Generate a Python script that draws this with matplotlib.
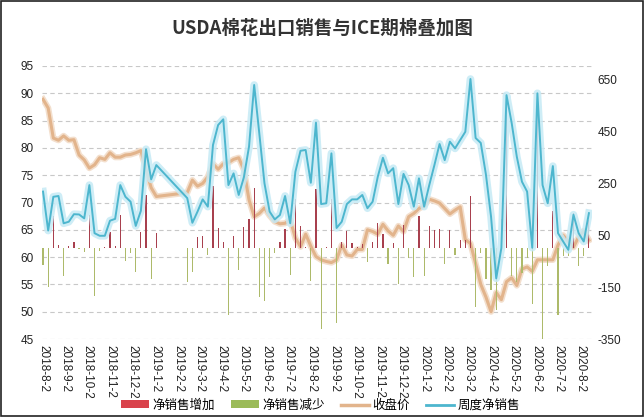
import matplotlib
matplotlib.use("Agg")
import matplotlib.pyplot as plt
import matplotlib.dates as mdates
from matplotlib.patches import Patch, Rectangle
from matplotlib.lines import Line2D
import pandas as pd
import numpy as np

plt.rcParams['font.family'] = ['Noto Sans CJK SC', 'DejaVu Sans']
plt.rcParams['axes.unicode_minus'] = False

# Weekly data starting 2018-08-02 (None = week not published)
start_date = "2018-08-02"
close_price = [88.9, 87.3, 81.8, 81.4, 82.2, 81.4, 81.5, 78.7, 77.8, 76.3,
               76.9, 78.2, 77.9, 79.1, 78.3, 78.3, 78.7, 78.8, 79.1, 79.5,
               76.0, 72.7, 71.1, None, None, None, None, None, 71.8, 74.1,
               73.0, 73.5, 74.7, 77.1, 76.1, 77.1, 77.3, 77.9, 78.2, 76.0,
               70.5, 67.4, 68.0, 69.0, 67.6, 66.5, 66.1, 66.2, 66.8, 63.5,
               61.9, 64.2, 62.0, 60.1, 59.5, 59.2, 59.0, 59.5, 62.2, 60.4,
               60.2, 61.4, 61.4, 65.0, 64.7, 64.2, 66.0, 64.8, 64.0, 65.7,
               64.7, 67.4, 68.0, 68.9, 69.4, 70.6, 70.3, 69.9, 68.9, 67.9,
               68.6, 69.2, 63.2, 62.5, 58.8, 55.0, 52.7, 50.0, 53.5, 52.2,
               55.5, 56.2, 54.8, 57.8, 58.2, 57.4, 59.5, 59.5, 59.5, 59.5,
               62.2, 64.0, 62.9, 61.8, 63.7, 64.8, 63.1]
weekly_sales = [217, 67, 197, 200, 95, 101, 130, 129, 114, 242,
                57, 47, 47, 105, 112, 242, 197, 178, 85, 143,
                380, 264, 319, None, None, None, None, None, 192, 97,
                140, 187, 159, 396, 473, 495, 242, 287, 204, 272,
                390, 627, 440, 249, 140, 110, 127, 200, 95, 293,
                374, 377, 251, 482, 169, 172, 364, 77, 101, 169,
                187, 187, 204, 153, 178, 274, 347, 287, 307, 169,
                285, 242, 159, 268, 159, 242, 319, 400, 338, 409,
                383, 415, 447, 650, 423, 404, 283, 120, -117, 0,
                588, 481, 351, 255, 217, 1, 595, 242, 172, 315,
                57, 25, -7, 128, 57, 25, 134]
sales_change = [-64, -151, 124, 12, -107, 8, 25, -2, -15, 128,
                -186, -10, 2, 62, 8, 128, -51, -19, -94, 62,
                205, -119, 58, None, None, None, None, None, -130, -94,
                42, 46, -28, 237, 77, 22, -258, 46, -86, 80,
                112, 230, -190, -205, -110, -20, 22, 75, -105, 190,
                85, 4, -125, 226, -313, 4, 190, -288, 22, 66,
                18, 2, 16, -53, 25, 97, 55, -61, 20, -140,
                90, -38, -110, 125, -108, 84, 70, 75, -60, 68,
                -25, 32, 32, 200, -225, -20, -121, -160, -237, 110,
                583, -107, -130, -96, -38, -216, 594, -353, -70, 143,
                -258, -32, -32, 135, -71, -32, 109]

tick_labels = ["2018-8-2", "2018-9-2", "2018-10-2", "2018-11-2", "2018-12-2",
               "2019-1-2", "2019-2-2", "2019-3-2", "2019-4-2", "2019-5-2",
               "2019-6-2", "2019-7-2", "2019-8-2", "2019-9-2", "2019-10-2",
               "2019-11-2", "2019-12-2", "2020-1-2", "2020-2-2", "2020-3-2",
               "2020-4-2", "2020-5-2", "2020-6-2", "2020-7-2", "2020-8-2"]
left_ticks = [45, 50, 55, 60, 65, 70, 75, 80, 85, 90, 95]
right_ticks = [-350, -150, 50, 250, 450, 650]

title = "USDA棉花出口销售与ICE期棉叠加图"
legend_labels = ["净销售增加", "净销售减少", "收盘价", "周度净销售"]

dates = pd.date_range(start_date, periods=len(close_price), freq="7D")
df = pd.DataFrame({"date": dates, "price": close_price,
                   "sales": weekly_sales, "chg": sales_change}).dropna()
df["price"] = df["price"].astype(float)
df["sales"] = df["sales"].astype(float)
df["chg"] = df["chg"].astype(float)
x = mdates.date2num(df["date"])

C_RED = "#A8404E"
C_GREEN = "#ADBA6A"
C_ORANGE = "#E2B48C"
C_BLUE = "#4DB6CE"

fig = plt.figure(figsize=(6.44, 4.17), dpi=100)
ax = fig.add_axes([42/644, 1-339/417, 550/644, 273/417])
ax2 = ax.twinx()

x0 = mdates.date2num(pd.Timestamp(start_date)) - 1.4
ax.set_xlim(x0, x0 + 747.6)
ax.set_ylim(45, 95)
ax2.set_ylim(-350, 700)

ax.set_yticks(left_ticks)
ax2.set_yticks(right_ticks)
ax.grid(axis="y", linestyle=(0, (4, 3)), color="#C8C8C8", linewidth=0.8)
ax.set_axisbelow(True)

for a in (ax, ax2):
    for s in a.spines.values():
        s.set_visible(False)
    a.tick_params(length=0, labelsize=8.5, colors="#222222")
ax.tick_params(axis="y", pad=6)
ax2.tick_params(axis="y", pad=4)
for lab in ax.get_yticklabels() + ax2.get_yticklabels():
    lab.set_family(["Liberation Sans", "DejaVu Sans"])

tick_pos = mdates.date2num(pd.to_datetime(tick_labels))
ax.set_xticks(tick_pos)
ax.set_xticklabels(tick_labels, rotation=-90, fontsize=8.5, va="top", ha="center",
                   family=["Liberation Sans", "DejaVu Sans"])
ax.tick_params(axis="x", pad=4)

# bars (net sales change) drawn as thin bars from zero
chg = df["chg"].values
cols = [C_RED if v >= 0 else C_GREEN for v in chg]
ax2.bar(x, chg, width=1.6, color=cols, zorder=2, linewidth=0)

# weekly net sales line with glow
ax2.plot(x, df["sales"], color="#C6EAF5", linewidth=5.5, alpha=0.85, zorder=3,
         solid_joinstyle="round")
ax2.plot(x, df["sales"], color=C_BLUE, linewidth=1.4, zorder=4)

ax2.set_zorder(ax.get_zorder() + 1)
ax2.patch.set_visible(False)
ax.plot(x, df["price"], color="#F3DFCD", linewidth=4.5, zorder=3)
ax.plot(x, df["price"], color=C_ORANGE, linewidth=2.2, zorder=4)

fig.suptitle(title, x=0.5, y=0.955, fontsize=13.3, fontweight="bold", color="#333333")

handles = [Patch(facecolor="#D9434C", edgecolor="none"),
           Patch(facecolor="#9BBB59", edgecolor="none"),
           Line2D([0], [0], color=C_ORANGE, linewidth=2.5),
           Line2D([0], [0], color=C_BLUE, linewidth=2.0)]
fig.legend(handles, legend_labels, loc="center", bbox_to_anchor=(0.498, 0.028),
           ncol=4, frameon=False, fontsize=9, handlelength=2.2, handleheight=0.6,
           columnspacing=1.3, handletextpad=0.3)

fig.patches.append(Rectangle((0.001, 0.002), 0.997, 0.996, transform=fig.transFigure,
                             fill=False, edgecolor="#222222", linewidth=1.2))

fig.savefig("out.png", dpi=100)
